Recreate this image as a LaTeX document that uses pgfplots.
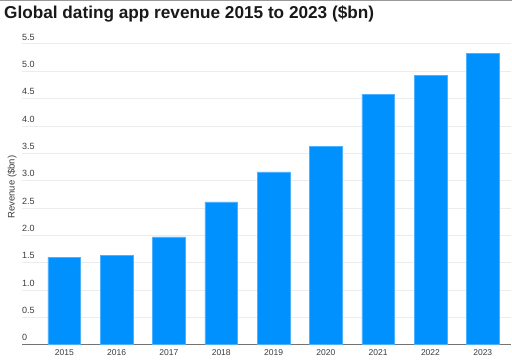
\documentclass[border=0pt]{standalone}
\usepackage{fontspec}
\setmainfont{Liberation Sans}
\usepackage{pgfplots}
\pgfplotsset{compat=1.18}
\definecolor{barblue}{RGB}{0,145,255}
\definecolor{gridgray}{RGB}{236,236,236}
\definecolor{txtgray}{RGB}{60,60,60}
\begin{document}
\begin{tikzpicture}[x=1pt,y=1pt]
\path[use as bounding box] (0,0) rectangle (512,363);
\fill[white] (0,0) rectangle (512,363);
\begin{axis}[
  at={(22pt,18.3pt)}, anchor=south west,
  scale only axis, width=489pt, height=300.7pt,
  xmin=-0.809, xmax=8.54, ymin=0, ymax=5.5,
  axis y line*=left,
  y axis line style={draw=none},
  axis x line*=bottom,
  x axis line style={draw=gray!90!black, line width=1.3pt, -},
  xtick={0,...,8},
  xticklabels={2015,2016,2017,2018,2019,2020,2021,2022,2023},
  xtick style={draw=none},
  xticklabel style={font=\fontsize{8.5}{10}\selectfont, text=txtgray, yshift=-1pt},
  ytick={0,0.5,...,5.5},
  yticklabels={0,0.5,1.0,1.5,2.0,2.5,3.0,3.5,4.0,4.5,5.0,5.5},
  ymajorgrids,
  grid style={draw=gridgray, line width=1pt},
  ytick style={draw=none},
  yticklabel style={font=\fontsize{9}{10}\selectfont, text=txtgray, anchor=south west, inner sep=0pt, xshift=0pt, yshift=3.5pt},
  ylabel={Revenue (\$bn)},
  ylabel style={font=\fontsize{9.5}{11}\selectfont, text=txtgray, at={(axis description cs:-0.0204,0.524)}, anchor=center, rotate=0},
  clip=false,
]
\addplot[ybar, bar width=0.625, fill=barblue, draw=barblue!70!white, line width=0.4pt] coordinates {
 (0,1.60) (1,1.64) (2,1.97) (3,2.61) (4,3.16) (5,3.63) (6,4.58) (7,4.93) (8,5.33)
};
\end{axis}
\draw[gray!80, line width=1.2pt] (0,362.4) -- (512,362.4);
\node[anchor=base west, inner sep=0pt, font=\bfseries\fontsize{17.2}{19}\selectfont, text=black!90] at (4,344.7) {Global dating app revenue 2015 to 2023 (\$bn)};
\end{tikzpicture}
\end{document}
